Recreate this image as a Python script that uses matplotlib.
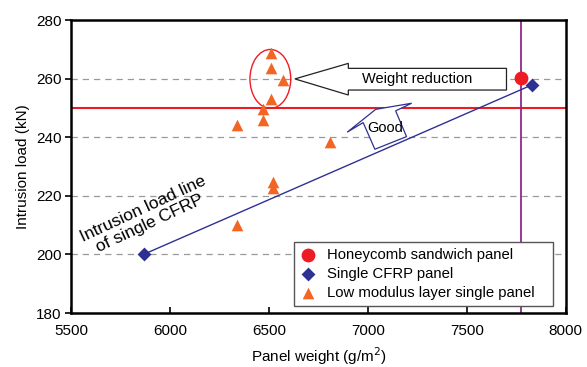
import matplotlib
matplotlib.use("Agg")
import matplotlib.pyplot as plt
from matplotlib.patches import Ellipse, Polygon, Rectangle

plt.rcParams['font.family'] = ['Liberation Sans', 'DejaVu Sans']

# Data
honeycomb_w = [7773]
honeycomb_load = [260.1]
cfrp_w = [5869, 7827]
cfrp_load = [200.1, 257.8]
lowmod_w = [6509, 6509, 6572, 6509, 6468, 6468, 6340, 6808, 6522, 6522, 6338]
lowmod_load = [268.6, 263.5, 259.6, 253.0, 249.5, 245.9, 244.2, 238.3, 224.8, 222.6, 210.0]
target_load = 250
honeycomb_weight_line = 7773

xticks = [5500, 6000, 6500, 7000, 7500, 8000]
yticks = [180, 200, 220, 240, 260, 280]

red = '#ED1C24'
navy = '#2E3192'
orange = '#F26522'
purple = '#92278F'

fig = plt.figure(figsize=(5.87, 3.67), dpi=100)
ax = fig.add_axes([0.121, 0.147, 0.843, 0.7985])

ax.set_xlim(5500, 8000)
ax.set_ylim(180, 280)
ax.set_xticks(xticks)
ax.set_yticks(yticks)

for y in [200, 220, 240, 260]:
    ax.axhline(y, color='#999999', lw=0.9, ls=(0, (5, 4)), zorder=1)

ax.axhline(target_load, color=red, lw=1.5, zorder=2)
ax.axvline(honeycomb_weight_line, color=purple, lw=1.3, zorder=2)

ax.plot(cfrp_w, cfrp_load, color=navy, lw=1.0, zorder=3)

ax.scatter(honeycomb_w, honeycomb_load, s=80, marker='o', color=red, zorder=5,
           label='Honeycomb sandwich panel')
ax.scatter(cfrp_w, cfrp_load, s=50, marker='D', color=navy, zorder=5,
           label='Single CFRP panel', linewidths=0)
ax.scatter(lowmod_w, lowmod_load, s=70, marker='^', color=orange, zorder=5,
           label='Low modulus layer single panel', linewidths=0)

# Ellipse around group
ax.add_patch(Ellipse((6507, 259.9), 206, 20.1, fill=False, edgecolor=red, lw=1.0, zorder=4))

# Weight reduction arrow
wr = [(6631, 259.9), (6901, 265.2), (6901, 263.5), (7700, 263.5),
      (7700, 256.1), (6901, 256.1), (6901, 254.4)]
ax.add_patch(Polygon(wr, closed=True, fill=True, facecolor='white', edgecolor='#222222', lw=0.9, zorder=4))
ax.text(7247, 259.8, 'Weight reduction', ha='center', va='center', fontsize=10.5, zorder=6)

# Good arrow
good = [(6895, 241.7), (7039, 249.5), (7221, 251.6), (7140, 249.0),
        (7195, 240.2), (7035, 235.9), (6976, 245.0)]
ax.add_patch(Polygon(good, closed=True, fill=True, facecolor='white', edgecolor=navy, lw=0.9, zorder=4))
ax.text(7086, 243.1, 'Good', ha='center', va='center', fontsize=10.5, zorder=6)

ax.text(5880, 213.0, 'Intrusion load line\nof single CFRP', rotation=25, ha='center', va='center',
        fontsize=12.5, rotation_mode='anchor', linespacing=1.15, zorder=6)

for s in ax.spines.values():
    s.set_linewidth(1.8)
ax.tick_params(axis='y', direction='out', length=4, width=1.2, labelsize=11, pad=3)
ax.tick_params(axis='x', direction='in', length=4, width=1.2, labelsize=11, pad=8)

ax.set_ylabel('Intrusion load (kN)', fontsize=11, labelpad=4)
ax.set_xlabel('Panel weight (g/m$^2$)', fontsize=11, labelpad=5)

# Legend frame
ax.add_patch(Rectangle((0.4505, 0.0239), 0.5232, 0.2184, transform=ax.transAxes,
                       facecolor='white', edgecolor='#555555', lw=1.0, zorder=9))
leg = ax.legend(loc='center left', bbox_to_anchor=(0.4505, 0.133), fontsize=10.7, frameon=False,
                borderpad=0.34, handletextpad=0.7, labelspacing=0.32, handlelength=1.2,
                borderaxespad=0)
leg.set_zorder(10)

fig.savefig('out.png', dpi=100)
